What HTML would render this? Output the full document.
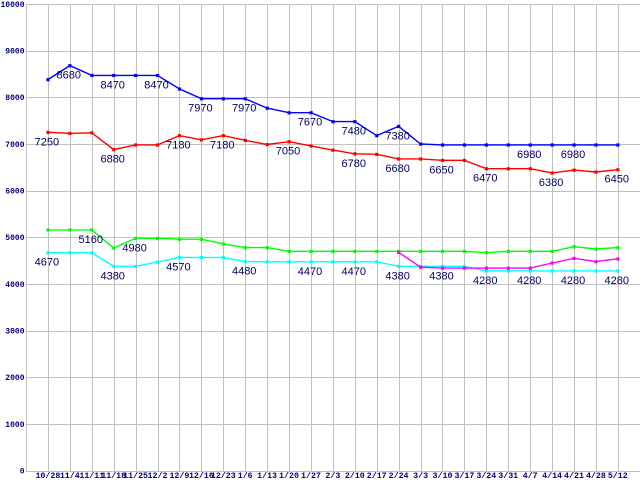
<!DOCTYPE html>
<html>
<head>
<meta charset="utf-8">
<style>
html,body{margin:0;padding:0;background:#fff;}
svg{display:block;}
.yl{font-family:"Liberation Mono",monospace;font-weight:bold;font-size:8px;fill:#000080;}
.xl{font-family:"Liberation Mono",monospace;font-weight:bold;font-size:8.3px;fill:#000080;}
.dl{font-family:"Liberation Sans",sans-serif;font-size:11px;fill:#000066;}
</style>
</head>
<body>
<svg id="c" width="640" height="480" viewBox="0 0 640 480" xmlns="http://www.w3.org/2000/svg">
<rect width="640" height="480" fill="#fff"/>
<g id="grid" stroke="#c0c0c0" stroke-width="1" shape-rendering="crispEdges"></g>
<g id="ylab"></g>
<g id="xlab"></g>
<g id="series"></g>
<g id="dlab"></g>
</svg>
<script>
(function(){
var NS="http://www.w3.org/2000/svg";
function el(t,a,p,txt){var e=document.createElementNS(NS,t);for(var k in a)e.setAttribute(k,a[k]);if(txt!==undefined)e.textContent=txt;p.appendChild(e);return e;}
var grid=document.getElementById('grid'),ylab=document.getElementById('ylab'),xlab=document.getElementById('xlab'),ser=document.getElementById('series'),dlab=document.getElementById('dlab');
var step=21.92;
function X(i){return 47.92+i*step;}
function Y(v){return 470.67-v*0.046667;}
// vertical grid
for(var k=0;k<=27;k++){var gx=Math.round(26+k*step)+0.5;el('line',{x1:gx,y1:4,x2:gx,y2:471},grid);}
// horizontal grid
for(var j=0;j<=10;j++){var gy=Math.round(4+j*46.667)+0.5;el('line',{x1:26,y1:gy,x2:640,y2:gy},grid);
 el('text',{x:24.5,y:(4+j*46.667+2.8).toFixed(1),'text-anchor':'end','class':'yl'},ylab,String((10-j)*1000));}
var xl=["10/28","11/4","11/11","11/18","11/25","12/2","12/9","12/16","12/23","1/6","1/13","1/20","1/27","2/3","2/10","2/17","2/24","3/3","3/10","3/17","3/24","3/31","4/7","4/14","4/21","4/28","5/12"];
for(var i=0;i<xl.length;i++){el('text',{x:X(i).toFixed(1),y:477.8,'text-anchor':'middle','class':'xl'},xlab,xl[i]);}
var S=[
 {c:"#0000ff",s:0,d:[8380,8680,8470,8470,8470,8470,8180,7970,7970,7970,7770,7670,7670,7480,7480,7180,7380,7000,6980,6980,6980,6980,6980,6980,6980,6980,6980],
  L:[[1,8680],[3,8470],[5,8470],[7,7970],[9,7970],[12,7670],[14,7480],[16,7380],[22,6980],[24,6980]]},
 {c:"#ff0000",s:0,d:[7250,7230,7240,6880,6980,6980,7180,7090,7180,7080,6990,7050,6960,6870,6790,6780,6680,6680,6650,6650,6470,6470,6470,6380,6440,6400,6450],
  L:[[0,7250],[3,6880],[6,7180],[8,7180],[11,7050],[14,6780],[16,6680],[18,6650],[20,6470],[23,6380],[26,6450]]},
 {c:"#00ff00",s:0,d:[5160,5160,5160,4770,4980,4980,4960,4960,4860,4780,4780,4700,4700,4700,4700,4700,4700,4700,4700,4700,4670,4700,4700,4700,4800,4750,4780],
  L:[[2,5160],[4,4980]]},
 {c:"#00ffff",s:0,d:[4670,4670,4670,4380,4380,4470,4570,4570,4570,4480,4475,4475,4475,4475,4475,4475,4380,4380,4380,4380,4280,4280,4280,4280,4280,4280,4280],
  L:[[0,4670],[3,4380],[6,4570],[9,4480],[12,4470],[14,4470],[16,4380],[18,4380],[20,4280],[22,4280],[24,4280],[26,4280]]},
 {c:"#ff00ff",s:16,d:[4680,4360,4340,4340,4340,4340,4340,4450,4550,4480,4540],L:[]}
];
S.forEach(function(s){
 var pts=s.d.map(function(v,i){return X(i+s.s).toFixed(1)+","+Y(v).toFixed(1);}).join(" ");
 el('polyline',{points:pts,fill:"none",stroke:s.c,'stroke-width':1.4},ser);
 s.d.forEach(function(v,i){var px=X(i+s.s),py=Y(v);el('rect',{x:(px-1.5).toFixed(1),y:(py-1.5).toFixed(1),width:3.2,height:3.2,fill:s.c},ser);});
});
S.forEach(function(s){
 s.L.forEach(function(l){var i=l[0];var v=s.d[i-s.s];el('text',{x:(X(i)-1).toFixed(1),y:(Y(v)+13).toFixed(1),'text-anchor':'middle','class':'dl'},dlab,String(l[1]));});
});
})();
</script>
</body>
</html>
